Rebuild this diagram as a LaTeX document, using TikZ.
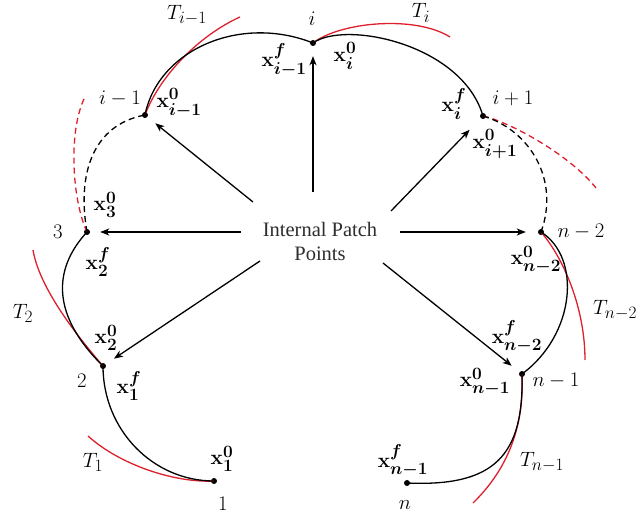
\documentclass[tikz,border=0pt]{standalone}
\usepackage[no-math]{fontspec}
\setmainfont{Liberation Serif}
\usepackage{amsmath}
\DeclareMathSizes{22}{22}{16.5}{12}
\DeclareMathSizes{20}{20}{15}{11}
\usetikzlibrary{arrows.meta}
\definecolor{tred}{RGB}{222,32,45}
\definecolor{tgray}{RGB}{45,45,45}
\tikzset{
  dot/.style={circle,fill=black,inner sep=0pt,minimum size=6pt},
  curveb/.style={line width=1.3pt,black},
  curver/.style={line width=1.3pt,tred},
  dsh/.style={dash pattern=on 6pt off 4pt},
  arr/.style={line width=1.3pt,-{Stealth[length=9pt,width=7pt,inset=2.5pt]},shorten >=10pt},
  lab/.style={font=\fontsize{22}{26}\selectfont\boldmath,inner sep=0pt},
  tlab/.style={font=\fontsize{22}{26}\selectfont,inner sep=0pt},
  num/.style={font=\fontsize{20}{24}\selectfont,inner sep=0pt}
}
\begin{document}
\begin{tikzpicture}[x=1pt,y=-1pt]
\useasboundingbox (0,0) rectangle (638,518);
% points
\node[dot] (p1) at (214,481) {};
\node[dot] (p2) at (103,366) {};
\node[dot] (p3) at (87,232) {};
\node[dot] (pim) at (145,115) {};
\node[dot] (pi) at (313,43) {};
\node[dot] (pip) at (483,116) {};
\node[dot] (pn2) at (541,232) {};
\node[dot] (pn1) at (522,374) {};
\node[dot] (pn) at (407,483) {};
% red tangent arcs
\coordinate (t1e) at (88,436);
\coordinate (t2e) at (33,250);
\coordinate (t3e) at (85,97);
\coordinate (time) at (240,17);
\coordinate (tie) at (450,37);
\coordinate (tipe) at (596,188);
\coordinate (tn2e) at (585,360);
\coordinate (tn1e) at (473,503);
\draw[curver] (p1.center) .. controls (175,483) and (120,465) .. (t1e);
\draw[curver] (p2.center) .. controls (85,345) and (40,292) .. (t2e);
\draw[curver,dsh] (p3.center) .. controls (72,200) and (68,130) .. (t3e);
\draw[curver] (pim.center) .. controls (160,75) and (200,35) .. (time);
\draw[curver] (pi.center) .. controls (340,22) and (415,15) .. (tie);
\draw[curver,dsh] (pip.center) .. controls (510,122) and (570,155) .. (tipe);
\draw[curver] (pn2.center) .. controls (565,260) and (585,310) .. (tn2e);
\draw[curver] (pn1.center) .. controls (524,420) and (512,465) .. (tn1e);
% black trajectory arcs
\draw[curveb] (p1.center) .. controls (153,481) and (103,430) .. (p2.center);
\draw[curveb] (p2.center) .. controls (52,316) and (52,270) .. (p3.center);
\draw[curveb,dsh] (p3.center) .. controls (77,175) and (92,125) .. (pim.center);
\draw[curveb] (pim.center) .. controls (158,50) and (240,14) .. (pi.center);
\draw[curveb] (pi.center) .. controls (345,20) and (462,44) .. (pip.center);
\draw[curveb,dsh] (pip.center) .. controls (530,130) and (560,180) .. (pn2.center);
\draw[curveb] (pn2.center) .. controls (582,258) and (575,335) .. (pn1.center);
\draw[curveb] (pn1.center) .. controls (524,455) and (495,487) .. (pn.center);
% centre text
\node[font=\fontsize{20.5}{24}\selectfont,text=tgray,align=center] (ipp) at (320,241) {Internal Patch\\Points};
% arrows
\coordinate (s1) at (313,192);
\coordinate (s2) at (253,202);
\coordinate (s3) at (241,232);
\coordinate (s4) at (260,261);
\coordinate (s5) at (391,211);
\coordinate (s6) at (400,232);
\coordinate (s7) at (383,263);
\draw[arr] (s1) -- (pi);
\draw[arr] (s2) -- (pim);
\draw[arr] (s3) -- (p3);
\draw[arr] (s4) -- (p2);
\draw[arr,shorten >=16pt] (s5) -- (pip);
\draw[arr,shorten >=12pt] (s6) -- (pn2);
\draw[arr] (s7) -- (pn1);
% labels
\node[num] (l1) at (223,504) {$1$};
\node[lab] (x10) at (222,459) {$\mathbf{x}_{1}^{0}$};
\node[tlab] (lt1) at (93,462) {$T_{1}$};
\node[num] (l2) at (82,381) {$2$};
\node[lab] (x1f) at (129,386) {$\mathbf{x}_{1}^{f}$};
\node[lab] (x20) at (106,338) {$\mathbf{x}_{2}^{0}$};
\node[tlab] (lt2) at (23,313) {$T_{2}$};
\node[lab] (x2f) at (98,262) {$\mathbf{x}_{2}^{f}$};
\node[num] (l3) at (58,232) {$3$};
\node[lab] (x30) at (105,205) {$\mathbf{x}_{3}^{0}$};
\node[num] (lim) at (120,99) {$i-1$};
\node[lab] (xim0) at (179,103) {$\mathbf{x}_{i-1}^{0}$};
\node[tlab] (ltim) at (187,15) {$T_{i-1}$};
\node[num] (li) at (312,19) {$i$};
\node[lab] (ximf) at (284,60) {$\mathbf{x}_{i-1}^{f}$};
\node[lab] (xi0) at (345,56) {$\mathbf{x}_{i}^{0}$};
\node[tlab] (lti) at (421,13) {$T_{i}$};
\node[lab] (xif) at (454,104) {$\mathbf{x}_{i}^{f}$};
\node[num] (lip) at (513,98) {$i+1$};
\node[lab] (xip0) at (495,144) {$\mathbf{x}_{i+1}^{0}$};
\node[num] (ln2) at (581,232) {$n-2$};
\node[lab] (xn20) at (536,260) {$\mathbf{x}_{n-2}^{0}$};
\node[tlab] (ltn2) at (615,310) {$T_{n-2}$};
\node[lab] (xn2f) at (517,337) {$\mathbf{x}_{n-2}^{f}$};
\node[num] (ln1) at (556,381) {$n-1$};
\node[lab] (xn10) at (485,382) {$\mathbf{x}_{n-1}^{0}$};
\node[tlab] (ltn1) at (542,462) {$T_{n-1}$};
\node[lab] (xn1f) at (403,461) {$\mathbf{x}_{n-1}^{f}$};
\node[num] (ln) at (405,505) {$n$};
\end{tikzpicture}
\end{document}
